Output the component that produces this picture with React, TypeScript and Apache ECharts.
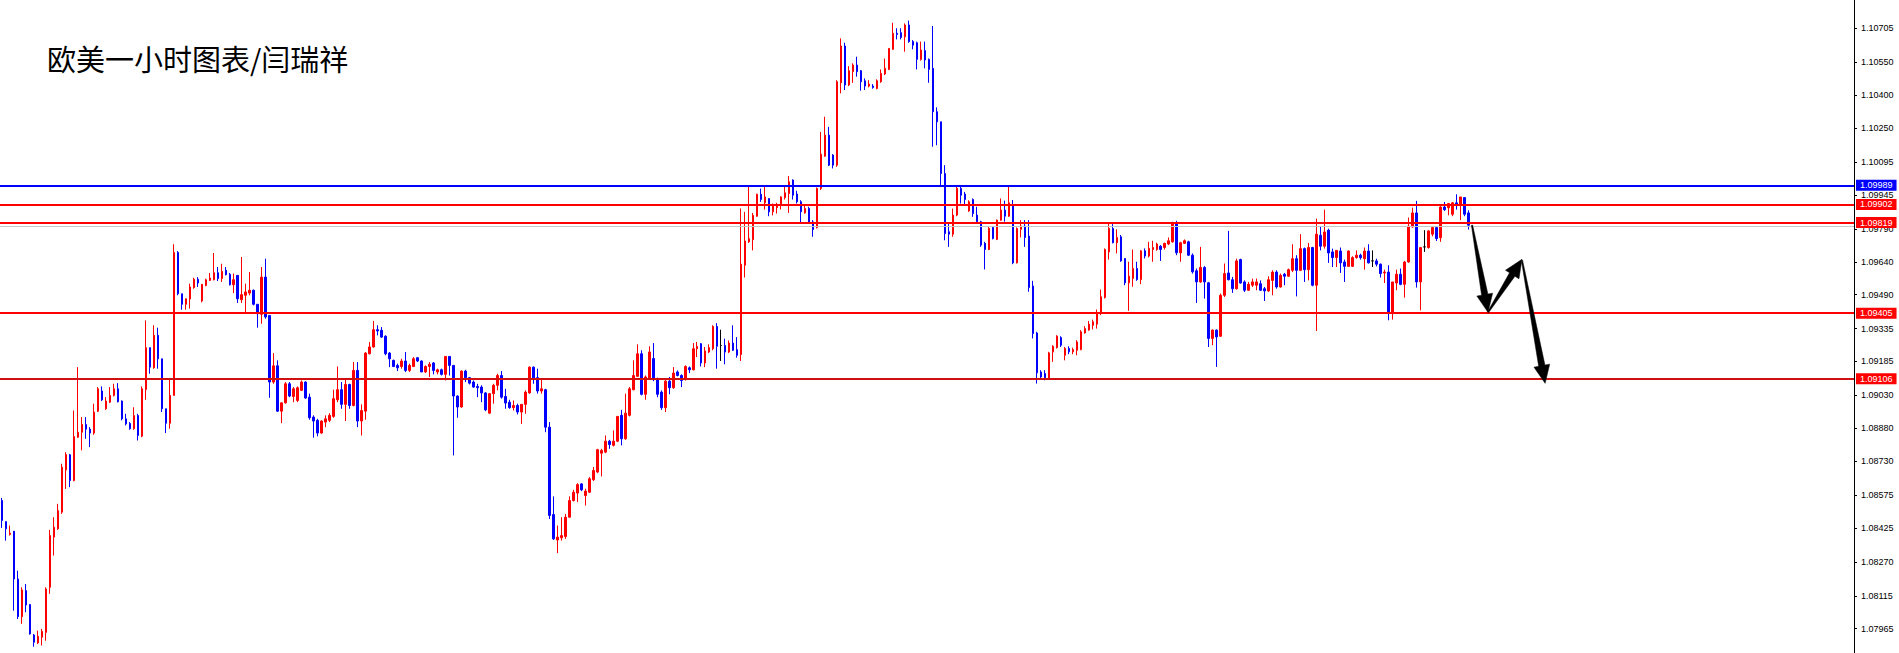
import React, { useEffect, useRef } from "react";
import * as echarts from "echarts";

const titleText = "欧美一小时图表/闫瑞祥";

// 464 hourly slots across the plot (368 candles + empty future space)
const slotCount = 464;
const slots: string[] = Array.from({ length: slotCount }, (_, i) => String(i));

const opens: number[] = [
1.08550,1.08454,1.08395,1.08410,1.08192,1.08020,1.08139,1.08075,1.07936,1.07900,
1.07926,1.07948,1.08154,1.08383,1.08421,1.08497,1.08690,1.08759,1.08641,1.08839,
1.08862,1.08897,1.08876,1.08858,1.08958,1.09050,1.08969,1.08999,1.09030,1.09060,
1.09004,1.08923,1.08902,1.08878,1.08938,1.08844,1.09057,1.09248,1.09156,1.09304,
1.09197,1.08969,1.08903,1.09030,1.09682,1.09494,1.09446,1.09470,1.09522,1.09560,
1.09461,1.09532,1.09555,1.09558,1.09590,1.09564,1.09601,1.09583,1.09535,1.09578,
1.09467,1.09487,1.09497,1.09510,1.09446,1.09400,1.09570,1.09395,1.09091,1.09165,
1.08958,1.08996,1.09083,1.09025,1.09007,1.09053,1.09091,1.09022,1.08931,1.08916,
1.08858,1.08908,1.08916,1.08934,1.09010,1.09056,1.08989,1.09080,1.08984,1.09144,
1.08913,1.08958,1.09220,1.09251,1.09330,1.09327,1.09300,1.09223,1.09190,1.09167,
1.09162,1.09187,1.09144,1.09162,1.09202,1.09187,1.09137,1.09162,1.09178,1.09137,
1.09147,1.09126,1.09208,1.09167,1.09027,1.08977,1.09141,1.09111,1.09091,1.09071,
1.09068,1.09041,1.08949,1.09038,1.09076,1.09121,1.09025,1.08999,1.08974,1.08984,
1.08954,1.08989,1.09041,1.09159,1.09111,1.09050,1.09056,1.08885,1.08486,1.08370,
1.08380,1.08386,1.08474,1.08550,1.08584,1.08626,1.08573,1.08588,1.08645,1.08680,
1.08766,1.08771,1.08821,1.08802,1.08821,1.08939,1.08832,1.08939,1.09056,1.09117,
1.09220,1.09035,1.09106,1.09198,1.09106,1.09045,1.08974,1.09095,1.09065,1.09137,
1.09121,1.09102,1.09156,1.09147,1.09243,1.09266,1.09178,1.09228,1.09243,1.09345,
1.09258,1.09258,1.09228,1.09269,1.09239,1.09217,1.09624,1.09731,1.09741,1.09848,
1.09948,1.09909,1.09929,1.09868,1.09887,1.09898,1.09933,1.09952,1.10013,1.09949,
1.09914,1.09863,1.09883,1.09822,1.09796,1.09975,1.10122,1.10218,1.10127,1.10081,
1.10457,1.10625,1.10447,1.10508,1.10538,1.10512,1.10466,1.10442,1.10442,1.10431,
1.10462,1.10497,1.10518,1.10610,1.10683,1.10686,1.10667,1.10721,1.10645,1.10640,
1.10564,1.10604,1.10564,1.10523,1.10325,1.10279,1.10043,1.09777,1.09766,1.09853,
1.09975,1.09949,1.09872,1.09924,1.09853,1.09823,1.09724,1.09696,1.09797,1.09742,
1.09830,1.09876,1.09848,1.09899,1.09635,1.09788,1.09803,1.09757,1.09529,1.09315,
1.09137,1.09130,1.09107,1.09229,1.09248,1.09294,1.09213,1.09244,1.09229,1.09236,
1.09239,1.09315,1.09328,1.09350,1.09355,1.09404,1.09477,1.09685,1.09792,1.09727,
1.09754,1.09655,1.09544,1.09564,1.09609,1.09559,1.09690,1.09666,1.09696,1.09696,
1.09711,1.09705,1.09721,1.09731,1.09818,1.09681,1.09724,1.09731,1.09670,1.09599,
1.09548,1.09614,1.09544,1.09290,1.09328,1.09300,1.09487,1.09589,1.09558,1.09517,
1.09650,1.09548,1.09510,1.09533,1.09533,1.09540,1.09517,1.09507,1.09555,1.09593,
1.09525,1.09583,1.09574,1.09601,1.09654,1.09601,1.09700,1.09604,1.09705,1.09533,
1.09761,1.09711,1.09784,1.09685,1.09659,1.09689,1.09639,1.09619,1.09619,1.09659,
1.09670,1.09654,1.09689,1.09644,1.09644,1.09629,1.09589,1.09593,1.09406,1.09543,
1.09583,1.09537,1.09639,1.09799,1.09863,1.09548,1.09708,1.09705,1.09766,1.09796,
1.09750,1.09890,1.09887,1.09857,1.09909,1.09903,1.09933,1.09863
];

const closes: number[] = [
1.08459,1.08421,1.08401,1.08192,1.08020,1.08142,1.08073,1.07941,1.07903,1.07930,
1.07953,1.08146,1.08390,1.08428,1.08504,1.08702,1.08760,1.08641,1.08842,1.08862,
1.08897,1.08876,1.08858,1.08954,1.09060,1.09010,1.09004,1.09030,1.09060,1.09001,
1.08923,1.08900,1.08878,1.08938,1.08847,1.09060,1.09248,1.09159,1.09304,1.09197,
1.08969,1.08903,1.09030,1.09682,1.09494,1.09446,1.09471,1.09525,1.09560,1.09543,
1.09537,1.09558,1.09566,1.09590,1.09563,1.09596,1.09581,1.09535,1.09558,1.09471,
1.09490,1.09502,1.09510,1.09446,1.09403,1.09570,1.09388,1.09091,1.09165,1.08958,
1.08996,1.09083,1.09027,1.09060,1.09065,1.09091,1.09018,1.08928,1.08913,1.08858,
1.08913,1.08923,1.08939,1.09015,1.09056,1.08989,1.09080,1.08984,1.09144,1.08913,
1.08961,1.09223,1.09251,1.09330,1.09324,1.09296,1.09220,1.09197,1.09162,1.09156,
1.09187,1.09144,1.09167,1.09197,1.09187,1.09137,1.09162,1.09172,1.09144,1.09147,
1.09126,1.09208,1.09167,1.09027,1.08977,1.09141,1.09111,1.09086,1.09068,1.09065,
1.09041,1.08964,1.09038,1.09076,1.09121,1.09022,1.08995,1.08974,1.08984,1.08954,
1.08989,1.09045,1.09159,1.09106,1.09050,1.09060,1.08885,1.08482,1.08375,1.08383,
1.08390,1.08474,1.08550,1.08588,1.08623,1.08599,1.08593,1.08649,1.08687,1.08782,
1.08779,1.08821,1.08806,1.08821,1.08934,1.08832,1.08949,1.09060,1.09121,1.09220,
1.09035,1.09114,1.09228,1.09102,1.09035,1.08974,1.09095,1.09065,1.09132,1.09121,
1.09098,1.09162,1.09147,1.09243,1.09254,1.09178,1.09233,1.09248,1.09345,1.09254,
1.09258,1.09228,1.09269,1.09236,1.09213,1.09629,1.09735,1.09746,1.09852,1.09948,
1.09924,1.09936,1.09868,1.09894,1.09898,1.09936,1.09955,1.10005,1.09944,1.09914,
1.09868,1.09883,1.09822,1.09787,1.09975,1.10131,1.10218,1.10081,1.10081,1.10462,
1.10625,1.10447,1.10512,1.10538,1.10508,1.10462,1.10442,1.10451,1.10436,1.10466,
1.10500,1.10523,1.10614,1.10683,1.10678,1.10664,1.10721,1.10645,1.10629,1.10564,
1.10607,1.10561,1.10518,1.10325,1.10279,1.10043,1.09769,1.09766,1.09853,1.09975,
1.09944,1.09924,1.09914,1.09860,1.09823,1.09716,1.09696,1.09792,1.09746,1.09830,
1.09876,1.09848,1.09909,1.09635,1.09792,1.09803,1.09751,1.09523,1.09312,1.09133,
1.09114,1.09111,1.09224,1.09254,1.09300,1.09259,1.09244,1.09229,1.09239,1.09274,
1.09320,1.09335,1.09355,1.09366,1.09407,1.09480,1.09696,1.09792,1.09727,1.09751,
1.09644,1.09544,1.09574,1.09609,1.09559,1.09690,1.09666,1.09701,1.09705,1.09721,
1.09696,1.09724,1.09736,1.09818,1.09681,1.09727,1.09736,1.09670,1.09594,1.09548,
1.09614,1.09548,1.09290,1.09328,1.09297,1.09487,1.09586,1.09558,1.09517,1.09644,
1.09543,1.09510,1.09537,1.09548,1.09548,1.09510,1.09507,1.09558,1.09593,1.09525,
1.09578,1.09574,1.09604,1.09654,1.09601,1.09700,1.09604,1.09705,1.09533,1.09766,
1.09711,1.09776,1.09680,1.09659,1.09692,1.09635,1.09619,1.09689,1.09659,1.09670,
1.09659,1.09689,1.09635,1.09644,1.09629,1.09586,1.09593,1.09406,1.09548,1.09583,
1.09537,1.09639,1.09802,1.09863,1.09548,1.09705,1.09708,1.09781,1.09796,1.09746,
1.09890,1.09878,1.09906,1.09909,1.09903,1.09936,1.09857,1.09807
];

const highs: number[] = [
1.08562,1.08454,1.08436,1.08410,1.08230,1.08154,1.08169,1.08078,1.07941,1.07956,
1.07964,1.08154,1.08416,1.08474,1.08535,1.08718,1.08771,1.08763,1.08961,1.09159,
1.08931,1.08931,1.08885,1.08992,1.09068,1.09071,1.09022,1.09068,1.09083,1.09086,
1.09007,1.08946,1.08908,1.08976,1.08946,1.09071,1.09372,1.09248,1.09350,1.09339,
1.09197,1.08969,1.09106,1.09720,1.09689,1.09494,1.09471,1.09540,1.09567,1.09570,
1.09537,1.09563,1.09589,1.09680,1.09616,1.09631,1.09616,1.09589,1.09586,1.09578,
1.09662,1.09540,1.09593,1.09513,1.09446,1.09616,1.09654,1.09395,1.09223,1.09190,
1.08996,1.09091,1.09091,1.09068,1.09071,1.09098,1.09094,1.09038,1.08939,1.08923,
1.08916,1.08939,1.08949,1.09056,1.09162,1.09091,1.09106,1.09083,1.09182,1.09182,
1.08989,1.09228,1.09274,1.09370,1.09350,1.09342,1.09304,1.09228,1.09193,1.09175,
1.09197,1.09228,1.09175,1.09205,1.09205,1.09190,1.09167,1.09182,1.09182,1.09152,
1.09152,1.09208,1.09208,1.09167,1.09030,1.09144,1.09147,1.09114,1.09098,1.09083,
1.09076,1.09045,1.09041,1.09083,1.09129,1.09141,1.09060,1.09010,1.09007,1.08992,
1.08989,1.09053,1.09162,1.09162,1.09152,1.09106,1.09060,1.08908,1.08569,1.08436,
1.08474,1.08489,1.08569,1.08599,1.08629,1.08629,1.08604,1.08657,1.08703,1.08786,
1.08786,1.08847,1.08827,1.08870,1.08934,1.08964,1.09038,1.09068,1.09190,1.09263,
1.09236,1.09121,1.09254,1.09269,1.09111,1.09053,1.09102,1.09114,1.09159,1.09144,
1.09126,1.09167,1.09162,1.09269,1.09274,1.09269,1.09251,1.09263,1.09350,1.09360,
1.09330,1.09289,1.09281,1.09350,1.09296,1.09883,1.09868,1.09982,1.09863,1.09951,
1.09974,1.09985,1.09929,1.09906,1.09909,1.09939,1.09982,1.10031,1.10016,1.09964,
1.09921,1.09903,1.09891,1.09830,1.09979,1.10233,1.10302,1.10256,1.10131,1.10469,
1.10660,1.10640,1.10533,1.10546,1.10576,1.10515,1.10477,1.10469,1.10451,1.10473,
1.10518,1.10568,1.10614,1.10731,1.10706,1.10706,1.10728,1.10741,1.10652,1.10645,
1.10645,1.10645,1.10568,1.10716,1.10345,1.10279,1.10081,1.09818,1.09883,1.09982,
1.09982,1.09959,1.09921,1.09929,1.09891,1.09827,1.09731,1.09803,1.09803,1.09833,
1.09929,1.09919,1.09986,1.09922,1.09797,1.09830,1.09830,1.09830,1.09553,1.09320,
1.09145,1.09145,1.09229,1.09259,1.09305,1.09300,1.09251,1.09254,1.09248,1.09282,
1.09328,1.09346,1.09370,1.09376,1.09422,1.09513,1.09701,1.09818,1.09812,1.09788,
1.09762,1.09655,1.09640,1.09696,1.09640,1.09693,1.09701,1.09731,1.09736,1.09727,
1.09716,1.09727,1.09751,1.09823,1.09827,1.09731,1.09742,1.09736,1.09678,1.09609,
1.09708,1.09620,1.09548,1.09331,1.09331,1.09495,1.09632,1.09781,1.09571,1.09654,
1.09654,1.09555,1.09548,1.09563,1.09563,1.09555,1.09525,1.09574,1.09601,1.09601,
1.09586,1.09589,1.09609,1.09720,1.09670,1.09766,1.09705,1.09726,1.09708,1.09837,
1.09799,1.09878,1.09791,1.09700,1.09692,1.09705,1.09650,1.09692,1.09665,1.09692,
1.09677,1.09705,1.09720,1.09692,1.09654,1.09632,1.09604,1.09624,1.09548,1.09604,
1.09609,1.09644,1.09842,1.09887,1.09918,1.09708,1.09784,1.09784,1.09799,1.09802,
1.09894,1.09913,1.09909,1.09913,1.09948,1.09936,1.09933,1.09875
];

const lows: number[] = [
1.08425,1.08367,1.08390,1.08047,1.08009,1.07987,1.08040,1.07938,1.07883,1.07895,
1.07888,1.07910,1.08124,1.08299,1.08416,1.08489,1.08603,1.08611,1.08638,1.08836,
1.08779,1.08832,1.08794,1.08850,1.08954,1.09004,1.08964,1.08995,1.09025,1.08998,
1.08916,1.08893,1.08873,1.08873,1.08824,1.08839,1.09010,1.09129,1.09152,1.09152,
1.08954,1.08858,1.08878,1.09030,1.09487,1.09421,1.09421,1.09426,1.09517,1.09525,
1.09455,1.09528,1.09552,1.09555,1.09552,1.09548,1.09578,1.09532,1.09497,1.09452,
1.09452,1.09403,1.09487,1.09441,1.09339,1.09357,1.09380,1.09019,1.09083,1.08954,
1.08903,1.08992,1.09022,1.08999,1.08999,1.09050,1.09015,1.08919,1.08837,1.08843,
1.08855,1.08885,1.08908,1.08928,1.08999,1.08969,1.08913,1.08969,1.08980,1.08885,
1.08847,1.08919,1.09217,1.09248,1.09304,1.09293,1.09213,1.09159,1.09159,1.09141,
1.09152,1.09137,1.09137,1.09159,1.09182,1.09137,1.09132,1.09114,1.09126,1.09126,
1.09121,1.09098,1.09121,1.08756,1.08928,1.08974,1.09091,1.09080,1.09065,1.09022,
1.08999,1.08958,1.08946,1.08992,1.09053,1.09015,1.08969,1.08969,1.08961,1.08943,
1.08900,1.08946,1.09038,1.09083,1.09038,1.09038,1.08862,1.08466,1.08370,1.08310,
1.08367,1.08375,1.08471,1.08546,1.08543,1.08593,1.08527,1.08584,1.08639,1.08675,
1.08660,1.08766,1.08786,1.08797,1.08817,1.08802,1.08827,1.08934,1.09053,1.09114,
1.09030,1.09010,1.09102,1.09095,1.09022,1.08964,1.08954,1.09035,1.09060,1.09117,
1.09068,1.09098,1.09132,1.09144,1.09205,1.09162,1.09159,1.09223,1.09236,1.09152,
1.09187,1.09172,1.09223,1.09233,1.09202,1.09187,1.09568,1.09726,1.09692,1.09845,
1.09913,1.09878,1.09848,1.09852,1.09860,1.09879,1.09924,1.09863,1.09924,1.09906,
1.09818,1.09860,1.09818,1.09754,1.09792,1.09967,1.10119,1.10077,1.10066,1.10073,
1.10409,1.10424,1.10442,1.10457,1.10485,1.10421,1.10424,1.10436,1.10430,1.10427,
1.10457,1.10492,1.10515,1.10607,1.10655,1.10655,1.10599,1.10640,1.10610,1.10518,
1.10558,1.10523,1.10457,1.10165,1.10172,1.09990,1.09738,1.09708,1.09754,1.09848,
1.09906,1.09903,1.09868,1.09845,1.09818,1.09708,1.09605,1.09693,1.09742,1.09739,
1.09827,1.09823,1.09845,1.09629,1.09632,1.09751,1.09708,1.09503,1.09290,1.09084,
1.09107,1.09099,1.09102,1.09183,1.09244,1.09251,1.09190,1.09218,1.09218,1.09213,
1.09236,1.09312,1.09325,1.09331,1.09335,1.09396,1.09472,1.09650,1.09724,1.09678,
1.09640,1.09533,1.09416,1.09526,1.09553,1.09538,1.09655,1.09660,1.09640,1.09690,
1.09644,1.09696,1.09716,1.09727,1.09670,1.09640,1.09721,1.09666,1.09586,1.09452,
1.09544,1.09472,1.09251,1.09259,1.09160,1.09297,1.09479,1.09555,1.09498,1.09513,
1.09540,1.09502,1.09507,1.09525,1.09510,1.09507,1.09461,1.09502,1.09487,1.09517,
1.09522,1.09533,1.09571,1.09593,1.09482,1.09598,1.09548,1.09555,1.09528,1.09324,
1.09692,1.09700,1.09635,1.09616,1.09616,1.09589,1.09548,1.09616,1.09616,1.09654,
1.09650,1.09604,1.09632,1.09616,1.09619,1.09568,1.09543,1.09373,1.09376,1.09510,
1.09533,1.09476,1.09635,1.09796,1.09522,1.09418,1.09685,1.09700,1.09756,1.09735,
1.09731,1.09872,1.09852,1.09848,1.09878,1.09830,1.09848,1.09787
];

// price-axis tick labels
const tickValues: number[] = [
  1.10705, 1.10550, 1.10400, 1.10250, 1.10095, 1.09945, 1.09790, 1.09640, 1.09490, 1.09335,
  1.09185, 1.09030, 1.08880, 1.08730, 1.08575, 1.08425, 1.08270, 1.08115, 1.07965,
];

// horizontal price levels
const levelPrices: number[] = [1.09989, 1.09902, 1.09819, 1.09405, 1.09106];
const levelColors: string[] = ["#0000ff", "#ff0000", "#ff0000", "#ff0000", "#d01010"];
const bidPrice = 1.09802;

// projected path arrows (bar index, price)
const arrowFromX: number[] = [367.9, 371.9, 380.4];
const arrowFromP: number[] = [1.09807, 1.09409, 1.09647];
const arrowToX: number[] = [371.9, 380.4, 386.2];
const arrowToP: number[] = [1.09409, 1.09651, 1.09085];

const yMin = 1.07854;
const yMax = 1.10835;

export default function App() {
  const ref = useRef<HTMLDivElement>(null);

  useEffect(() => {
    document.body.style.margin = "0";
    if (!ref.current) return;
    const chart = echarts.init(ref.current, null, { renderer: "svg" });

    const candleData = opens.map((o, i) => [o, closes[i], lows[i], highs[i]]);

    const renderArrow = (params: any, api: any) => {
      const i = params.dataIndex;
      const band = api.size([1, 0])[0];
      const toPx = (xv: number, pv: number) => {
        const f = Math.floor(xv);
        const pt = api.coord([f, pv]);
        return [pt[0] + (xv - f) * band, pt[1]];
      };
      const s = toPx(arrowFromX[i], arrowFromP[i]);
      const e = toPx(arrowToX[i], arrowToP[i]);
      const dx = e[0] - s[0];
      const dy = e[1] - s[1];
      const len = Math.sqrt(dx * dx + dy * dy);
      const ux = dx / len, uy = dy / len;
      const nx = -uy, ny = ux;
      const headLen = 18, headHalf = 8, w0 = 0.6, w1 = 3.2;
      const bx = e[0] - ux * headLen, by = e[1] - uy * headLen;
      const pts = [
        [s[0] + nx * w0, s[1] + ny * w0],
        [bx + nx * w1, by + ny * w1],
        [bx + nx * headHalf, by + ny * headHalf],
        [e[0], e[1]],
        [bx - nx * headHalf, by - ny * headHalf],
        [bx - nx * w1, by - ny * w1],
        [s[0] - nx * w0, s[1] - ny * w0],
      ];
      return { type: "polygon", shape: { points: pts }, style: { fill: "#000000", stroke: "#000000", lineWidth: 0.5 } };
    };

    const markData: any[] = [
      {
        yAxis: bidPrice,
        lineStyle: { color: "#c8c8c8", width: 1, type: "solid" },
        label: { show: false },
      },
      ...levelPrices.map((p, i) => ({
        yAxis: p,
        lineStyle: { color: levelColors[i], width: 2, type: "solid" },
        label: { backgroundColor: i === 0 ? "#0000ff" : "#ff0000" },
      })),
    ];

    chart.setOption({
      animation: false,
      backgroundColor: "#ffffff",
      title: {
        text: titleText,
        left: 42,
        top: 38,
        textStyle: {
          fontFamily: "Noto Sans CJK SC",
          fontSize: 29,
          fontWeight: "normal",
          color: "#000000",
        },
      },
      grid: { left: 0, right: 45, top: 0, bottom: 0, containLabel: false },
      xAxis: {
        type: "category",
        data: slots,
        boundaryGap: true,
        show: false,
      },
      yAxis: {
        type: "value",
        position: "right",
        min: yMin,
        max: yMax,
        scale: true,
        splitLine: { show: false },
        axisLine: { show: true, onZero: false, lineStyle: { color: "#000000", width: 1 } },
        axisTick: {
          show: true,
          inside: false,
          length: 3,
          lineStyle: { color: "#000000" },
          customValues: tickValues,
        },
        axisLabel: {
          customValues: tickValues,
          margin: 7,
          color: "#000000",
          fontSize: 9,
          fontFamily: "Liberation Sans",
          formatter: (v: number) => v.toFixed(5),
        },
      },
      series: [
        {
          type: "candlestick",
          data: candleData,
          barWidth: 2,
          itemStyle: {
            color: "#ff0000",
            color0: "#0000ff",
            borderColor: "#ff0000",
            borderColor0: "#0000ff",
            borderColorDoji: "#000000",
            borderWidth: 1,
          },
          markLine: {
            silent: true,
            symbol: ["none", "none"],
            animation: false,
            precision: 5,
            label: {
              show: true,
              position: "end",
              distance: 2,
              color: "#ffffff",
              fontSize: 9,
              fontFamily: "Liberation Sans",
              padding: [1, 4, 1, 4],
              formatter: (p: any) => Number(p.value).toFixed(5),
            },
            data: markData,
          },
        },
        {
          type: "custom",
          renderItem: renderArrow,
          data: arrowFromX.map((x, i) => [Math.round(x), arrowFromP[i]]),
          silent: true,
          z: 5,
        },
      ],
    });

    return () => chart.dispose();
  }, []);

  return <div ref={ref} style={{ width: 1899, height: 653 }} />;
}
